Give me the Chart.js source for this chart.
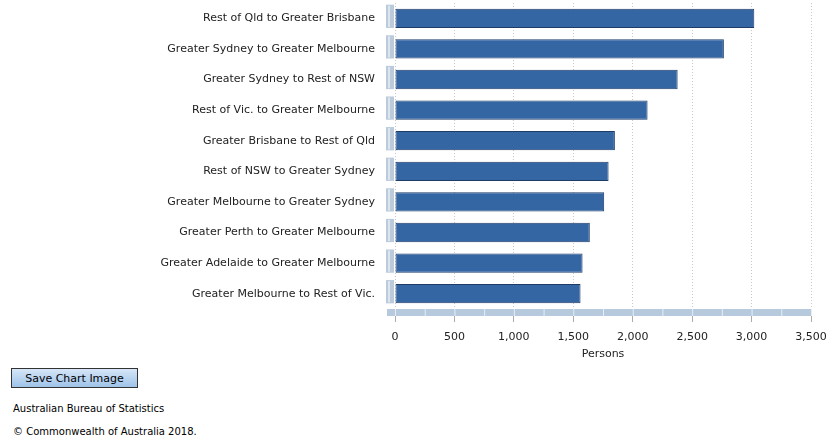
<!DOCTYPE html>
<html>
<head>
<meta charset="utf-8">
<script src="https://cdn.jsdelivr.net/npm/chart.js@4.4.0/dist/chart.umd.min.js"></script>
<style>
  body { margin: 0; background: #fff; font-family: "DejaVu Sans", Verdana, sans-serif; }
  #wrap { position: absolute; left: 0; top: 0; width: 836px; height: 365px; }
  #saveBtn {
    position: absolute; left: 11px; top: 368px; width: 127px; height: 20px;
    border: 1px solid #333; background: linear-gradient(#d6e6f7, #9fc3ea);
    font-family: "DejaVu Sans", Verdana, sans-serif; font-size: 11px; color: #000;
    padding: 0; margin: 0;
  }
  .foot { position: absolute; left: 13px; font-size: 10px; color: #000; }
</style>
</head>
<body>
<div id="wrap"><canvas id="flowChart" width="836" height="365"></canvas></div>
<button id="saveBtn">Save Chart Image</button>
<div class="foot" style="top:403px">Australian Bureau of Statistics</div>
<div class="foot" style="top:426px">&copy; Commonwealth of Australia 2018.</div>
<script>
const categories = [
  'Rest of Qld to Greater Brisbane',
  'Greater Sydney to Greater Melbourne',
  'Greater Sydney to Rest of NSW',
  'Rest of Vic. to Greater Melbourne',
  'Greater Brisbane to Rest of Qld',
  'Rest of NSW to Greater Sydney',
  'Greater Melbourne to Greater Sydney',
  'Greater Perth to Greater Melbourne',
  'Greater Adelaide to Greater Melbourne',
  'Greater Melbourne to Rest of Vic.'
];
const persons = [3023, 2767, 2378, 2125, 1850, 1797, 1760, 1639, 1578, 1561];
const xTicks = [0, 500, 1000, 1500, 2000, 2500, 3000, 3500];

// 3D-style wall and floor like the original chart
const wallFloor = {
  id: 'wallFloor',
  beforeDatasetsDraw(chart) {
    const ctx = chart.ctx;
    const area = chart.chartArea;
    const x = chart.scales.x;
    ctx.save();
    // floor
    ctx.fillStyle = '#b7c9dc';
    ctx.fillRect(x.getPixelForValue(0) - 8, area.bottom, x.getPixelForValue(3500) - x.getPixelForValue(0) + 8, 7);
    ctx.fillStyle = '#e6edf5';
    for (let v = 0; v <= 3500; v += 250) {
      ctx.fillRect(x.getPixelForValue(v), area.bottom, 1, 7);
    }
    // wall pieces beside each bar
    const meta = chart.getDatasetMeta(0);
    meta.data.forEach(bar => {
      const h = bar.height;
      ctx.fillStyle = '#bccbdb';
      ctx.fillRect(x.getPixelForValue(0) - 9, bar.y - h / 2 - 4, 8, h + 4);
      ctx.fillStyle = '#dde6ef';
      ctx.fillRect(x.getPixelForValue(0) - 7, bar.y - h / 2 - 3, 2, h + 2);
    });
    ctx.restore();
  }
};

const ctx = document.getElementById('flowChart').getContext('2d');
const flowChart = new Chart(ctx, {
  type: 'bar',
  data: {
    labels: categories,
    datasets: [{
      label: 'Persons',
      data: persons,
      backgroundColor: '#3466a4',
      borderColor: '#1d3c68',
      borderWidth: 1,
      borderSkipped: false,
      categoryPercentage: 1,
      barPercentage: 0.63
    }]
  },
  plugins: [wallFloor],
  options: {
    indexAxis: 'y',
    responsive: false,
    animation: false,
    layout: { padding: { top: 3, right: 25, left: 0, bottom: 0 } },
    plugins: {
      legend: { display: false },
      tooltip: { enabled: false }
    },
    scales: {
      x: {
        min: 0,
        max: 3500,
        afterBuildTicks: scale => { scale.ticks = xTicks.map(v => ({ value: v })); },
        afterFit: scale => { scale.height = 56; },
        grid: {
          color: '#c8c8c8',
          tickColor: '#aaaaaa',
          tickLength: 13,
          drawTicks: true
        },
        border: { display: false, dash: [1, 2] },
        ticks: {
          padding: 9,
          color: '#222',
          font: { family: 'DejaVu Sans', size: 11 },
          callback: v => v.toLocaleString('en-US')
        },
        title: {
          display: true,
          text: 'Persons',
          color: '#222',
          font: { family: 'DejaVu Sans', size: 11 },
          padding: { top: 0, bottom: 4 }
        }
      },
      y: {
        afterFit: scale => { scale.width = 395; },
        grid: {
          display: true,
          drawOnChartArea: false,
          drawTicks: true,
          tickLength: 20,
          tickColor: 'rgba(0,0,0,0)'
        },
        border: { display: false },
        ticks: {
          padding: 0,
          color: '#222',
          font: { family: 'DejaVu Sans', size: 11, lineHeight: 0.4 }
        }
      }
    }
  }
});
</script>
</body>
</html>
